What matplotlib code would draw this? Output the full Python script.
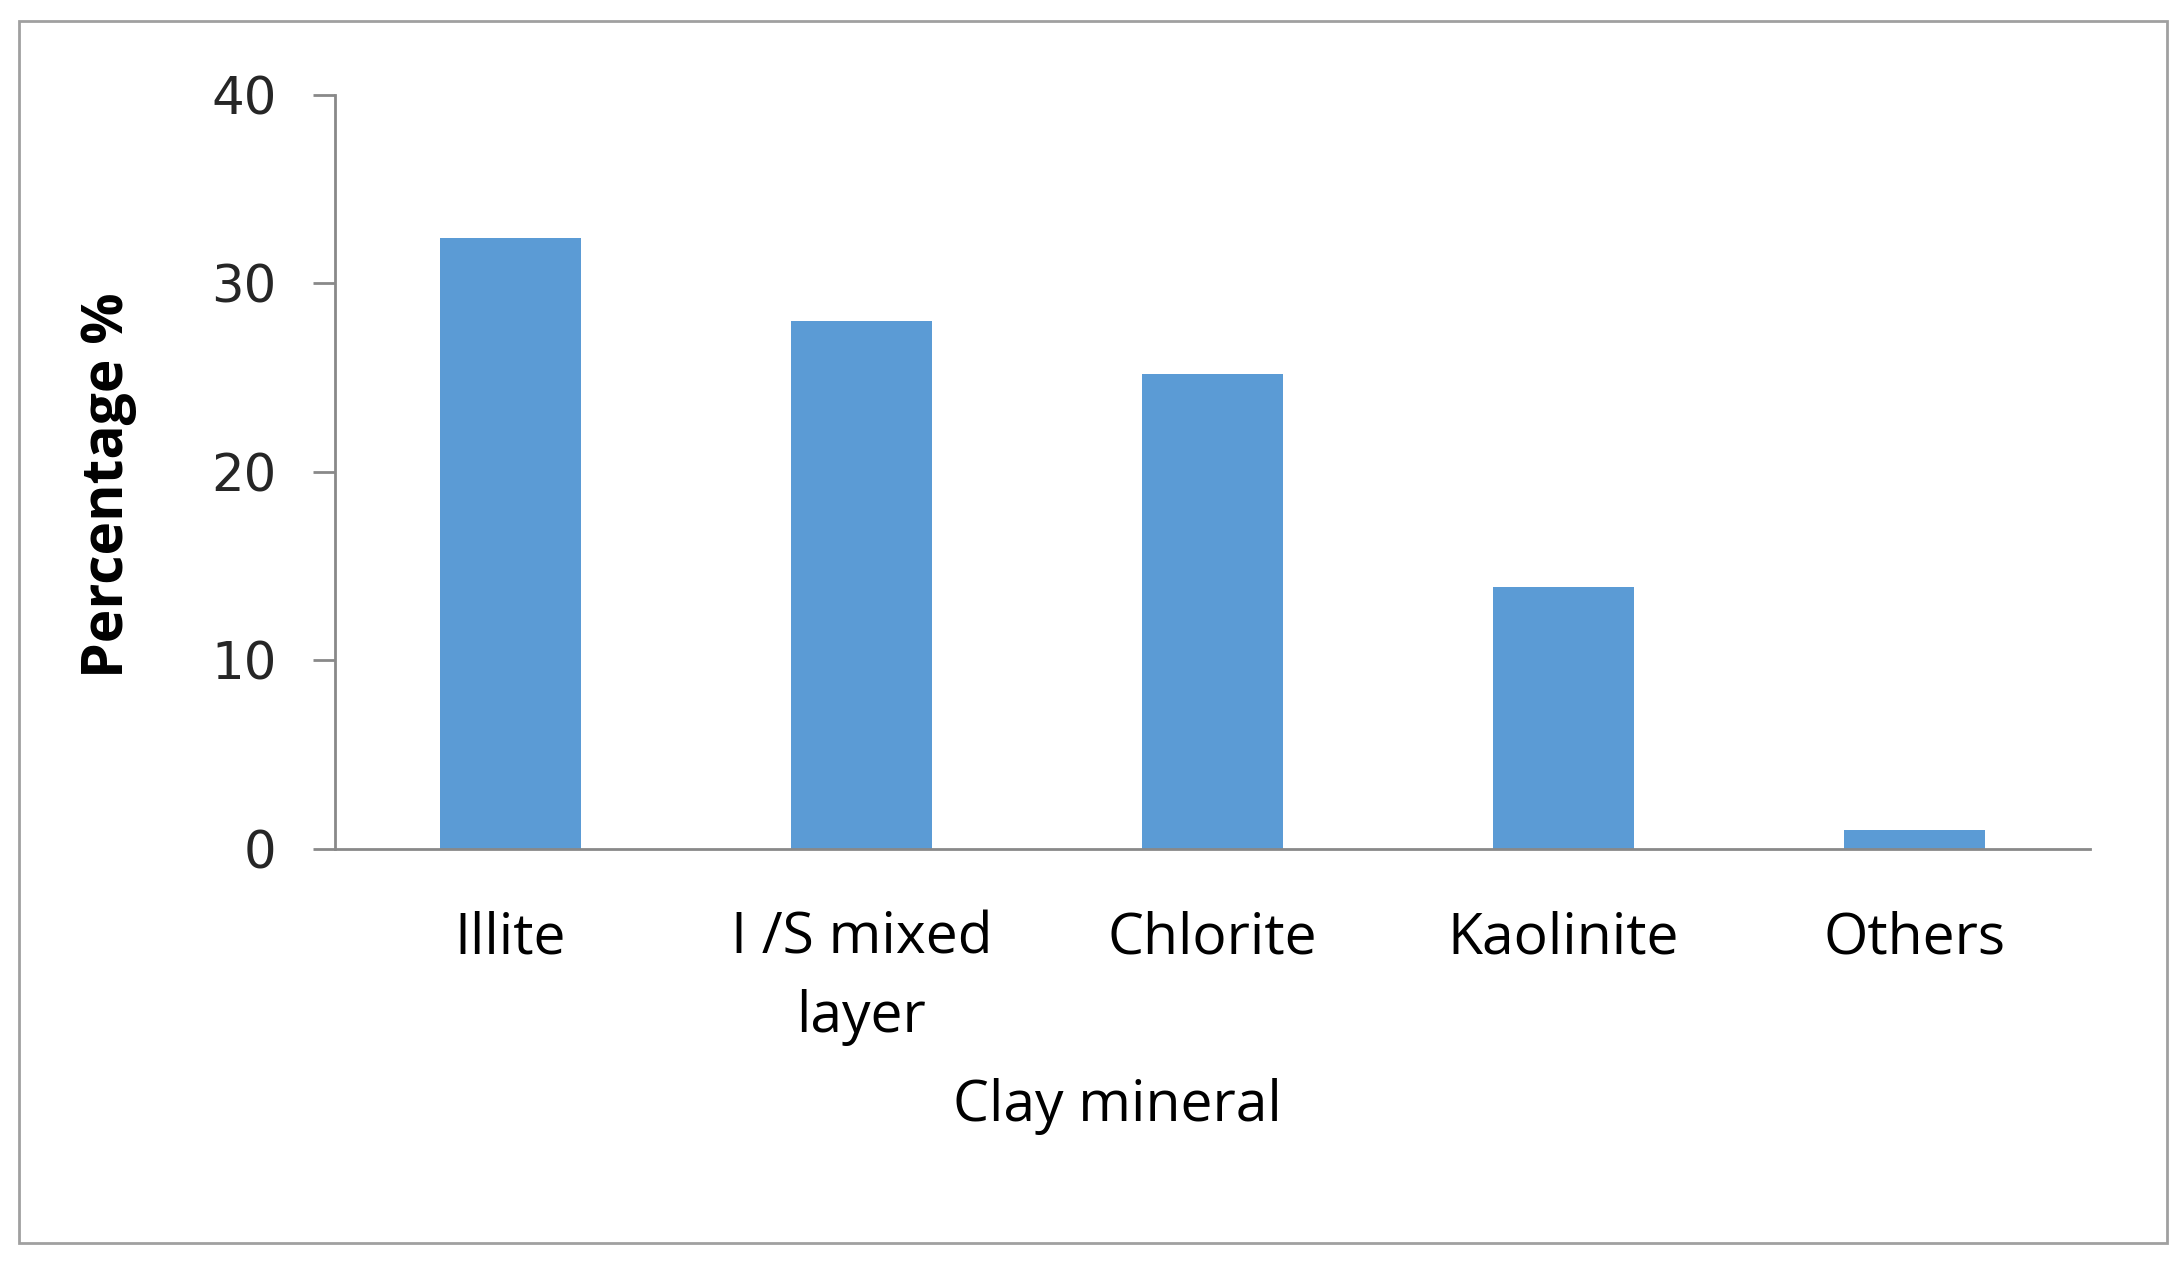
# coding: utf-8

import numpy as np
import matplotlib.pyplot as plt
import matplotlib.patches as mpatches

# 粘土鉱物の割合
categories = ['Illite', 'I /S mixed\nlayer', 'Chlorite', 'Kaolinite', 'Others']
percentages = [32.4, 28.0, 25.2, 13.9, 1.0]
y_ticks = [0, 10, 20, 30, 40]

bar_color = '#5B9BD5'
axis_color = '#898989'

fig = plt.figure(figsize=(21.82, 12.63), dpi=100)
ax = fig.add_axes([0.1535, 0.3278, 0.8043, 0.5970])

x = np.arange(len(categories))
ax.bar(x, percentages, width=0.4, color=bar_color)

ax.set_xlim(-0.5, len(categories) - 0.5)
ax.set_ylim(0, 40)

# 軸線
for side in ['top', 'right']:
    ax.spines[side].set_visible(False)
for side in ['left', 'bottom']:
    ax.spines[side].set_color(axis_color)
    ax.spines[side].set_linewidth(2)

ax.set_yticks(y_ticks)
ax.set_yticklabels([str(v) for v in y_ticks], fontsize=37, family='DejaVu Sans', color='#262626')
ax.tick_params(axis='y', length=16, width=2, color=axis_color, pad=26)

ax.set_xticks(x)
ax.set_xticklabels(categories, fontsize=41, family='Open Sans', linespacing=1.5)
ax.tick_params(axis='x', length=0, pad=44)

ax.set_xlabel('Clay mineral', fontsize=41, family='Open Sans')
ax.xaxis.set_label_coords(0.4457, -0.3035)
ax.set_ylabel('Percentage %', fontsize=41, family='Open Sans', fontweight='bold')
ax.yaxis.set_label_coords(-0.113, 0.483)

# 外枠
border = mpatches.Rectangle((19 / 2182, 1 - 1243 / 1263), (2167 - 19) / 2182, (1243 - 21) / 1263,
                            transform=fig.transFigure, fill=False, edgecolor='#A0A0A0', linewidth=2)
fig.patches.append(border)

fig.savefig('out.png', dpi=100)
plt.close()
